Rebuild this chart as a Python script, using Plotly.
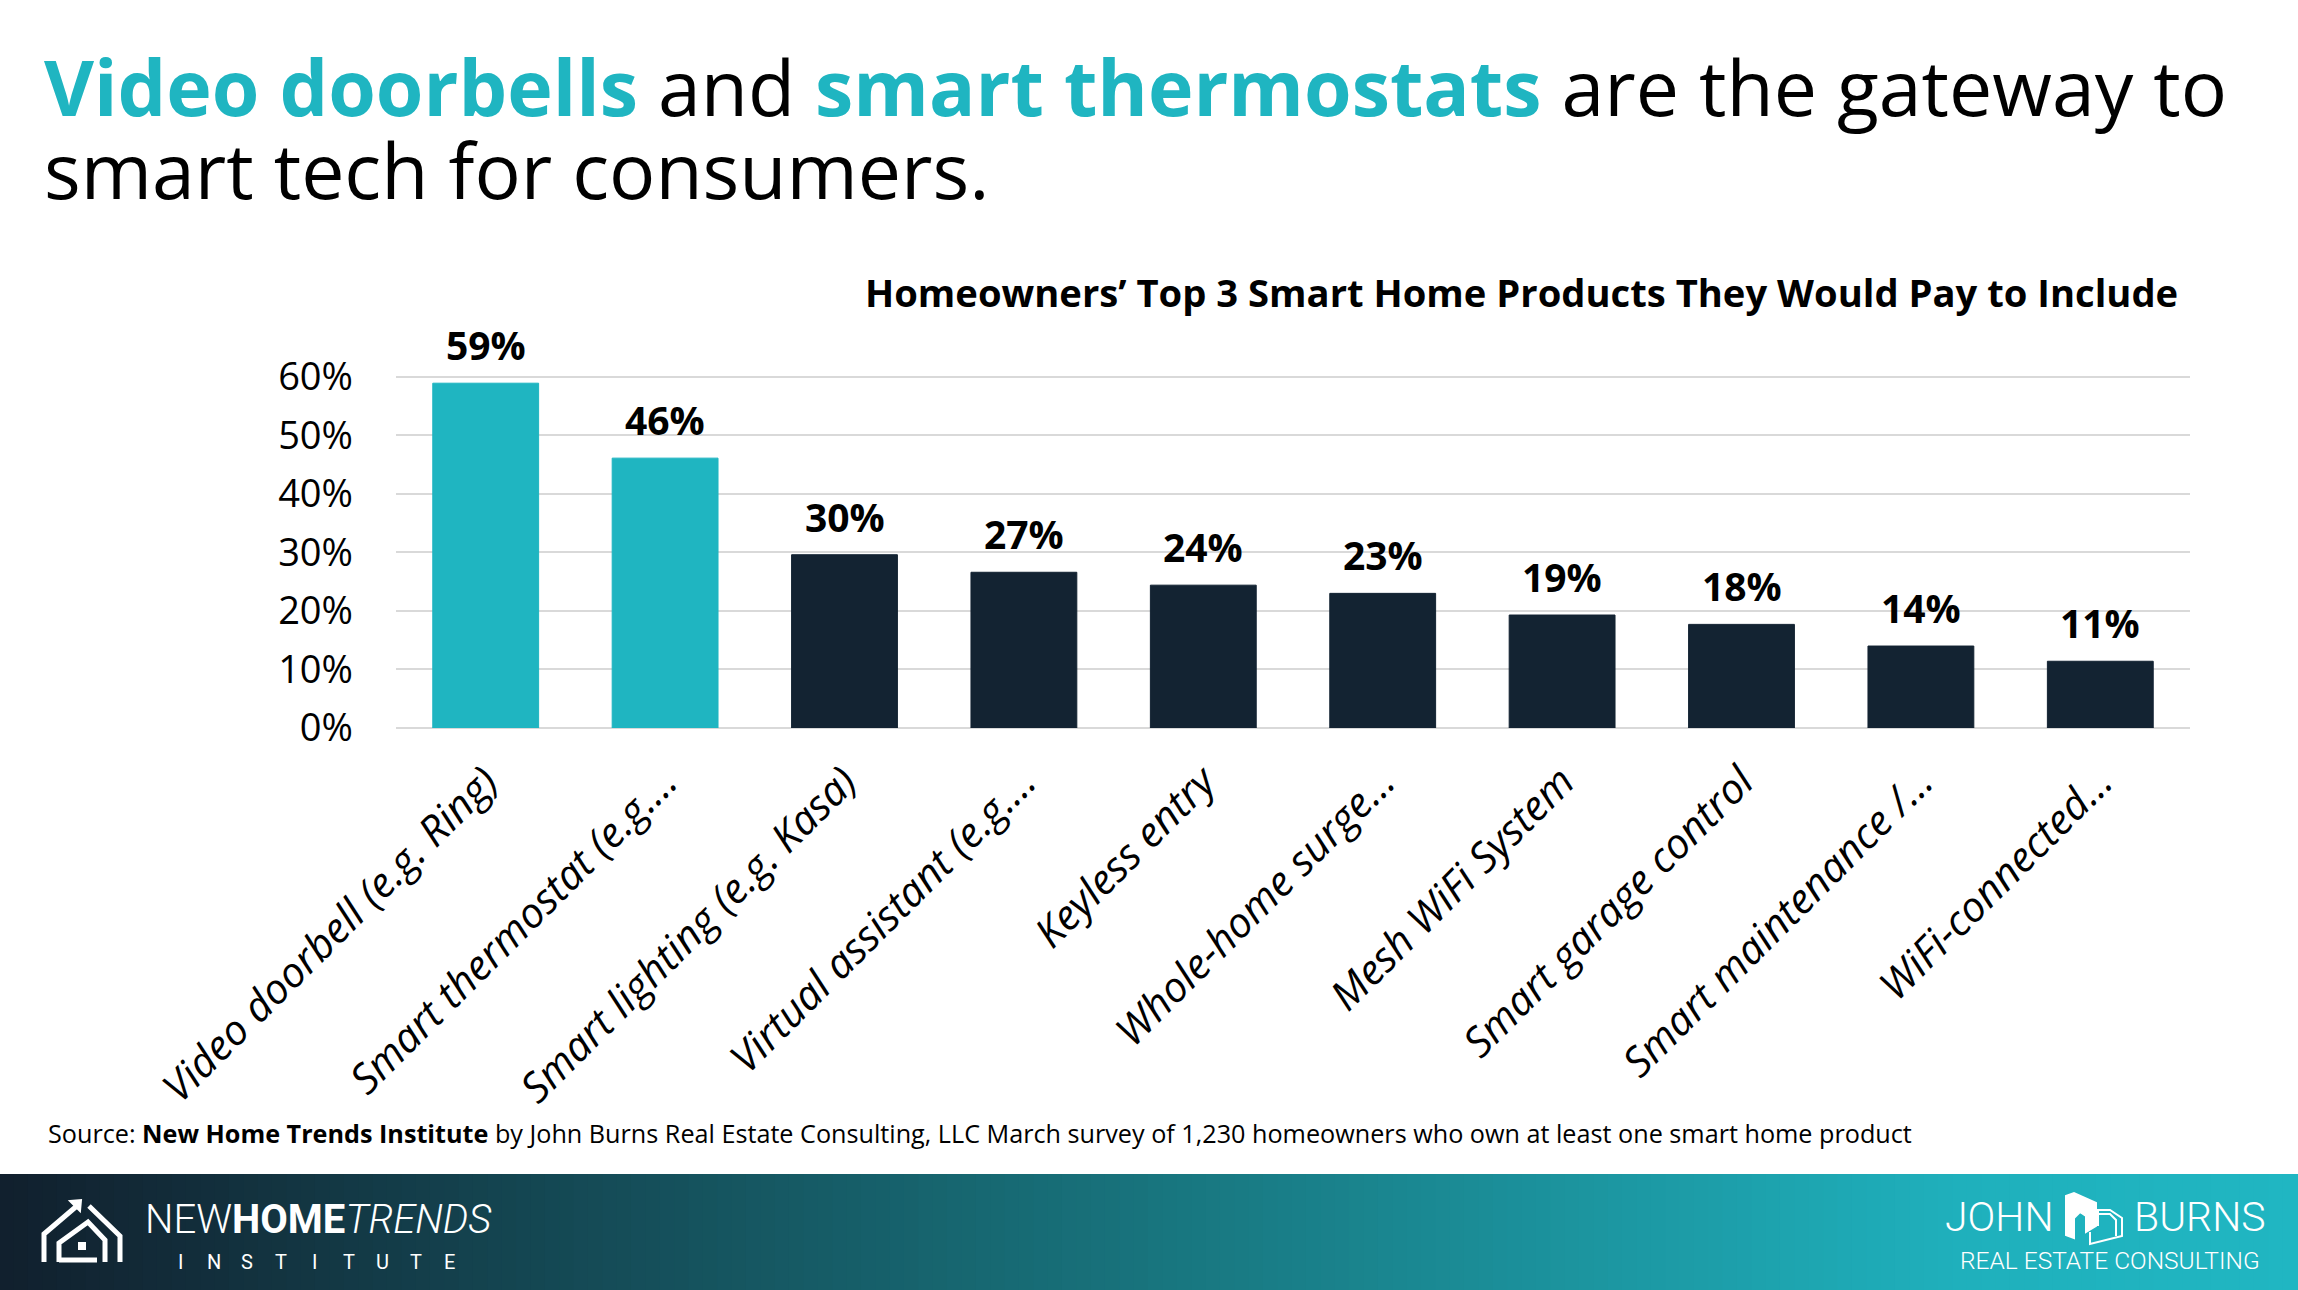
import plotly.graph_objects as go

# ---------------- data ----------------
categories = [
    "Video doorbell (e.g. Ring)",
    "Smart thermostat (e.g.…",
    "Smart lighting (e.g. Kasa)",
    "Virtual assistant (e.g.…",
    "Keyless entry",
    "Whole-home surge…",
    "Mesh WiFi System",
    "Smart garage control",
    "Smart maintenance /…",
    "WiFi-connected…",
]
values = [0.589, 0.461, 0.296, 0.266, 0.244, 0.230, 0.193, 0.177, 0.140, 0.114]
value_labels = ["59%", "46%", "30%", "27%", "24%", "23%", "19%", "18%", "14%", "11%"]
highlight = [True, True, False, False, False, False, False, False, False, False]
y_ticks = [0, 0.1, 0.2, 0.3, 0.4, 0.5, 0.6]
y_tick_labels = ["0%", "10%", "20%", "30%", "40%", "50%", "60%"]

TEAL = "#1FB5C1"
NAVY = "#132332"
W_PX, H_PX = 2298, 1290
Y_MAX = 0.603
L, R, T, B = 396, 2190, 375, 728
PW, PH = R - L, B - T


def px(x):
    return (x - L) / PW


def py(y):
    return (B - y) / PH


colors = [TEAL if h else NAVY for h in highlight]

fig = go.Figure()
fig.add_trace(go.Bar(
    x=categories, y=values,
    marker=dict(color=colors, line=dict(color=colors, width=1)),
    hoverinfo="skip",
))

annotations = []
for c, v, lab in zip(categories, values, value_labels):
    annotations.append(dict(
        x=c, y=v, xref="x", yref="y", text="<b>" + lab + "</b>",
        showarrow=False, yanchor="bottom", xanchor="center", yshift=10,
        font=dict(size=39, color="#000000", family="Open Sans"),
    ))

# Title (two lines)
title1 = ("<b><span style='color:%s'>Video doorbells</span></b> and "
          "<b><span style='color:%s'>smart thermostats</span></b> are the gateway to") % (TEAL, TEAL)
title2 = "smart tech for consumers."
TF = 77
for txt, base in [(title1, 116), (title2, 199)]:
    annotations.append(dict(
        x=px(42), y=py(base - 0.388 * TF), xref="paper", yref="paper",
        text=txt, showarrow=False, xanchor="left", yanchor="middle",
        font=dict(size=TF, color="#000000", family="Open Sans"),
    ))

# Chart subtitle
annotations.append(dict(
    x=px(2180), y=py(307 - 0.388 * 38), xref="paper", yref="paper",
    text="<b>Homeowners’ Top 3 Smart Home Products They Would Pay to Include</b>",
    showarrow=False, xanchor="right", yanchor="middle",
    font=dict(size=38.2, color="#000000", family="Open Sans"),
))

# Source
annotations.append(dict(
    x=px(46), y=py(1143 - 0.388 * 25), xref="paper", yref="paper",
    text="Source: <b>New Home Trends Institute</b> by John Burns Real Estate Consulting, LLC March survey of 1,230 homeowners who own at least one smart home product",
    showarrow=False, xanchor="left", yanchor="middle",
    font=dict(size=25.2, color="#000000", family="Open Sans"),
))

# Footer logos text
annotations.append(dict(
    x=px(143), y=py(1235 - 0.389 * 40), xref="paper", yref="paper",
    text="<span style='font-weight:300'>NEW</span><b>HOME</b><i><span style='font-weight:300'>TRENDS</span></i>",
    showarrow=False, xanchor="left", yanchor="middle",
    font=dict(size=40, color="#FFFFFF", family="Roboto"),
))
for i, ch in enumerate("INSTITUTE"):
    annotations.append(dict(
        x=px(180 + i * 33.7), y=py(1270 - 0.389 * 20), xref="paper", yref="paper",
        text=ch, showarrow=False, xanchor="center", yanchor="middle",
        font=dict(size=20, color="#FFFFFF", family="Roboto"),
    ))
annotations.append(dict(
    x=px(2056), y=py(1233 - 0.389 * 41), xref="paper", yref="paper",
    text="JOHN", showarrow=False, xanchor="right", yanchor="middle",
    font=dict(size=41, color="#FFFFFF", family="Roboto", weight=300),
))
annotations.append(dict(
    x=px(2132), y=py(1233 - 0.389 * 41), xref="paper", yref="paper",
    text="BURNS", showarrow=False, xanchor="left", yanchor="middle",
    font=dict(size=41, color="#FFFFFF", family="Roboto", weight=300),
))
annotations.append(dict(
    x=px(2262), y=py(1270 - 0.389 * 24.5), xref="paper", yref="paper",
    text="REAL ESTATE CONSULTING", showarrow=False, xanchor="right", yanchor="middle",
    font=dict(size=24.5, color="#FFFFFF", family="Roboto", weight=300),
))

# ---------------- footer background gradient ----------------
shapes = []
stops = [(0.0, (0x11, 0x1F, 0x2D)), (0.5, (0x18, 0x74, 0x7D)),
         (0.85, (0x1F, 0xB0, 0xBC)), (1.0, (0x20, 0xB6, 0xC2))]


def grad(t):
    for (t0, c0), (t1, c1) in zip(stops[:-1], stops[1:]):
        if t <= t1:
            f = (t - t0) / (t1 - t0)
            return "rgb(%d,%d,%d)" % tuple(round(a + (b - a) * f) for a, b in zip(c0, c1))
    return "rgb(%d,%d,%d)" % stops[-1][1]


N = 160
for i in range(N):
    x0 = W_PX * i / N - 1
    x1 = W_PX * (i + 1) / N + 1
    shapes.append(dict(type="rect", xref="paper", yref="paper",
                       x0=px(x0), x1=px(x1), y0=py(1174), y1=py(1292),
                       fillcolor=grad((i + 0.5) / N), line=dict(width=0), layer="below"))


def path(points, close=False):
    s = "M " + " L ".join("%f,%f" % (px(a), py(b)) for a, b in points)
    return s + (" Z" if close else "")


WH = dict(color="#FFFFFF", width=5)
# house icon
shapes.append(dict(type="path", xref="paper", yref="paper",
                   path=path([(44, 1262), (44, 1234), (78, 1205)]), line=WH))
shapes.append(dict(type="path", xref="paper", yref="paper",
                   path=path([(70, 1201), (81, 1200), (80, 1211)], close=True),
                   fillcolor="#FFFFFF", line=dict(color="#FFFFFF", width=2)))
shapes.append(dict(type="path", xref="paper", yref="paper",
                   path=path([(89, 1206), (120, 1236), (120, 1262)]), line=WH))
shapes.append(dict(type="path", xref="paper", yref="paper",
                   path=path([(59, 1262), (59, 1243), (88, 1222), (105, 1240), (105, 1262)]), line=WH))
shapes.append(dict(type="path", xref="paper", yref="paper",
                   path=path([(59, 1260), (97, 1260)]), line=WH))
shapes.append(dict(type="rect", xref="paper", yref="paper",
                   x0=px(78), x1=px(86), y0=py(1250), y1=py(1242),
                   fillcolor="#FFFFFF", line=dict(width=0)))

# building icon (John Burns)
WL = dict(color="#FFFFFF", width=2)
shapes.append(dict(type="path", xref="paper", yref="paper",
                   path=path([(2066, 1196), (2074, 1193), (2096, 1203), (2096, 1226), (2086, 1232),
                              (2086, 1216), (2080, 1212), (2074, 1218), (2074, 1238), (2066, 1235)], close=True),
                   fillcolor="#FFFFFF", line=WL))
shapes.append(dict(type="path", xref="paper", yref="paper",
                   path=path([(2090, 1232), (2090, 1244), (2122, 1236), (2122, 1218),
                              (2110, 1210), (2098, 1210), (2098, 1226)]), line=WL))
shapes.append(dict(type="path", xref="paper", yref="paper",
                   path=path([(2098, 1214), (2110, 1214), (2116, 1220), (2116, 1236)]), line=WL))

fig.update_layout(
    width=W_PX, height=H_PX,
    margin=dict(l=L, r=W_PX - R, t=T, b=H_PX - B, autoexpand=False),
    paper_bgcolor="#FFFFFF", plot_bgcolor="#FFFFFF",
    font=dict(family="Open Sans", color="#000000"),
    showlegend=False,
    bargap=0.41,
    annotations=annotations,
    shapes=shapes,
    xaxis=dict(
        tickangle=-45, automargin=False, showgrid=False, showline=False, zeroline=False,
        tickfont=dict(size=41.5, family="Open Sans", style="italic", color="#000000"),
        ticks="", ticklabelstandoff=20, fixedrange=True,
    ),
    yaxis=dict(
        range=[0, Y_MAX], tickvals=y_ticks, ticktext=y_tick_labels,
        showgrid=True, gridcolor="#D9D9D9", gridwidth=2,
        zeroline=True, zerolinecolor="#D9D9D9", zerolinewidth=2,
        showline=False, automargin=False, ticks="",
        ticklabelstandoff=42,
        tickfont=dict(size=38, family="Open Sans", color="#000000"),
        fixedrange=True,
    ),
)

fig.write_html(
    "out.html",
    config={"displayModeBar": False, "staticPlot": True},
    post_script="document.body.style.margin='0px';document.body.style.overflow='hidden';",
)
